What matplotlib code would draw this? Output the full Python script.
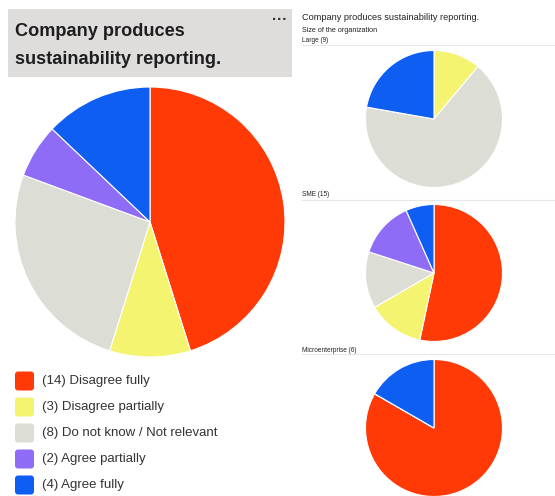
import matplotlib
matplotlib.use("Agg")
import matplotlib.pyplot as plt
from matplotlib.patches import FancyBboxPatch, Rectangle

plt.rcParams['font.family'] = ['Liberation Sans', 'DejaVu Sans']

# Survey answers: "Company produces sustainability reporting."
categories = ["Disagree fully", "Disagree partially", "Do not know / Not relevant",
              "Agree partially", "Agree fully"]
colors = ["#FF3A06", "#F4F471", "#DCDED6", "#8F6CF6", "#0E5EF2"]
overall = [14, 3, 8, 2, 4]

groups = ["Large", "SME", "Microenterprise"]
by_size = {
    "Large": [0, 1, 6, 0, 2],
    "SME": [8, 2, 2, 2, 1],
    "Microenterprise": [5, 0, 0, 0, 1],
}

W, H = 555, 496
fig = plt.figure(figsize=(W / 100, H / 100), dpi=100)
fig.patch.set_facecolor("white")


def px_axes(x0, y0, w, h):
    """Axes placed by pixel box (top-left origin)."""
    return fig.add_axes([x0 / W, 1 - (y0 + h) / H, w / W, h / H])


def draw_pie(cx, cy, r, values):
    ax = px_axes(cx - r, cy - r, 2 * r, 2 * r)
    wedges, _ = ax.pie(values, colors=colors, startangle=90, counterclock=False,
                       wedgeprops=dict(edgecolor="white", linewidth=0.8))
    for wdg in wedges:
        wdg.set_clip_on(False)
    ax.set_xlim(-1, 1)
    ax.set_ylim(-1, 1)
    ax.set_aspect("equal")
    ax.axis("off")
    return ax


# overlay for text and decorations in pixel coordinates
ov = fig.add_axes([0, 0, 1, 1], zorder=5)
ov.set_xlim(0, W)
ov.set_ylim(H, 0)
ov.axis("off")
ov.patch.set_alpha(0)

# left card title
ov.add_patch(Rectangle((8, 9), 284, 68, facecolor="#DFDCDC", edgecolor="none", zorder=1))
ov.text(15, 32, "Company produces", fontsize=13.1, fontweight="bold", color="#1E1E1E",
        va="center", ha="left", zorder=2)
ov.text(15, 60, "sustainability reporting.", fontsize=13.1, fontweight="bold",
        color="#1E1E1E", va="center", ha="left", zorder=2)
ov.text(280, 20, "···", fontsize=11, fontweight="bold", color="#333333",
        va="center", ha="center", zorder=2)

# main pie
draw_pie(150, 222, 135, overall)

# legend
legend_y = [381, 407, 433, 459, 485]
for yc, cat, val, col in zip(legend_y, categories, overall, colors):
    ov.add_patch(FancyBboxPatch((15, yc - 9.5), 19, 19,
                                boxstyle="round,pad=0,rounding_size=3",
                                facecolor=col, edgecolor="none"))
    ov.text(42, yc, f"({val}) {cat}", fontsize=9.5, color="#333333",
            va="center", ha="left")

# right panel headings
ov.text(302, 18, "Company produces sustainability reporting.", fontsize=6.6,
        color="#222222", va="center", ha="left")
ov.text(302, 30, "Size of the organization", fontsize=5.2, color="#222222",
        va="center", ha="left")

panel = {
    "Large": (41, 45, (434, 119)),
    "SME": (195, 200, (434, 273)),
    "Microenterprise": (350, 354, (434, 428)),
}
for g in groups:
    ly, sep, (cx, cy) = panel[g]
    n = sum(by_size[g])
    ov.text(302, ly, f"{g} ({n})", fontsize=4.7, color="#222222", va="center", ha="left")
    ov.plot([302, 555], [sep, sep], color="#E6E6EC", lw=0.8)
    draw_pie(cx, cy, 68.5, by_size[g])

fig.savefig("out.png", dpi=100, facecolor="white")
